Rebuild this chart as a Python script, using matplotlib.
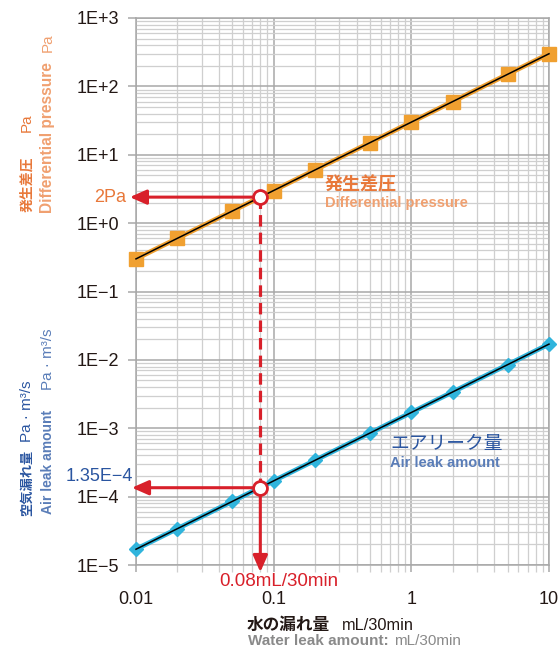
import math
import matplotlib
matplotlib.use('Agg')
import matplotlib.pyplot as plt
from matplotlib.ticker import LogLocator, FuncFormatter, NullFormatter

# data
water_leak = [0.01, 0.02, 0.05, 0.1, 0.2, 0.5, 1, 2, 5, 10]
diff_pressure = [0.3, 0.6, 1.5, 3, 6, 15, 30, 60, 150, 300]
air_leak = [1.7e-5, 3.4e-5, 8.5e-5, 1.7e-4, 3.4e-4, 8.5e-4, 1.7e-3, 3.4e-3, 8.5e-3, 1.7e-2]

# read-out example
read_water = 0.08
read_pressure = 2.4
read_air = 1.35e-4

ORANGE = "#F0A030"
ORANGE_TXT = "#E8783A"
ORANGE_LT = "#F0A070"
CYAN = "#30B4DC"
BLUE = "#2A55A0"
BLUE_LT = "#5A7DB8"
RED = "#D8202A"
INK = "#231815"

plt.rcParams['font.family'] = ['Liberation Sans', 'DejaVu Sans']
CJK = ['Noto Sans CJK JP', 'DejaVu Sans']

W, H = 560, 648
fig = plt.figure(figsize=(W / 100, H / 100), dpi=100)
ax = fig.add_axes([136 / W, 1 - 565 / H, (549 - 136) / W, (565 - 18) / H])

ax.set_xscale('log')
ax.set_yscale('log')
ax.set_xlim(0.01, 10)
ax.set_ylim(1e-5, 1e3)

ax.xaxis.set_major_locator(LogLocator(base=10, numticks=10))
ax.yaxis.set_major_locator(LogLocator(base=10, numticks=20))
ax.xaxis.set_minor_locator(LogLocator(base=10, subs=range(2, 10), numticks=50))
ax.yaxis.set_minor_locator(LogLocator(base=10, subs=range(2, 10), numticks=100))
ax.xaxis.set_minor_formatter(NullFormatter())
ax.yaxis.set_minor_formatter(NullFormatter())


def ylab(v, pos):
    e = int(round(math.log10(v)))
    return "1E" + ("+" if e >= 0 else "\u2212") + str(abs(e))


def xlab(v, pos):
    return {0.01: "0.01", 0.1: "0.1", 1: "1", 10: "10"}.get(round(v, 4), "")


ax.yaxis.set_major_formatter(FuncFormatter(ylab))
ax.xaxis.set_major_formatter(FuncFormatter(xlab))

ax.grid(True, which='major', color='#A8A8A8', lw=1.1)
ax.grid(True, which='minor', color='#CFCFCF', lw=0.9)
ax.set_axisbelow(True)
for s in ax.spines.values():
    s.set_color('#A8A8A8')
    s.set_linewidth(1.1)

ax.tick_params(axis='y', which='major', length=6, width=1.1, color='#A8A8A8',
               pad=6, labelsize=13, labelcolor=INK)
ax.tick_params(axis='y', which='minor', length=0)
ax.tick_params(axis='x', which='major', length=5, width=1.1, color='#A8A8A8',
               pad=13.5, labelsize=13, labelcolor=INK)
ax.tick_params(axis='x', which='minor', length=5, width=0.9, color='#CFCFCF')

# differential pressure series
ax.plot(water_leak, diff_pressure, color=ORANGE, lw=3.5, zorder=3)
ax.plot(water_leak, diff_pressure, 's', ms=9.5, color=ORANGE, clip_on=False, zorder=4)
ax.plot(water_leak, diff_pressure, color='black', lw=1.1, zorder=5, clip_on=False)

# air leak series
ax.plot(water_leak, air_leak, color=CYAN, lw=3.5, zorder=3)
ax.plot(water_leak, air_leak, 'D', ms=7.5, color=CYAN, clip_on=False, zorder=4)
ax.plot(water_leak, air_leak, color='black', lw=1.1, zorder=5, clip_on=False)

# read-out arrows
arrow = dict(arrowstyle='-|>,head_length=0.5,head_width=0.22', color=RED, lw=2.2,
             shrinkA=0, shrinkB=0, mutation_scale=20)
ax.annotate("", xy=(-0.015, read_pressure), xycoords=('axes fraction', 'data'),
            xytext=(read_water, read_pressure), textcoords='data',
            arrowprops=arrow, zorder=6, annotation_clip=False)
ax.annotate("", xy=(-0.01, read_air), xycoords=('axes fraction', 'data'),
            xytext=(read_water, read_air), textcoords='data',
            arrowprops=arrow, zorder=6, annotation_clip=False)
ax.annotate("", xy=(read_water, -0.013), xycoords=('data', 'axes fraction'),
            xytext=(read_water, read_air), textcoords='data',
            arrowprops=arrow, zorder=6, annotation_clip=False)
ax.plot([read_water, read_water], [read_pressure, read_air], color=RED, lw=2.3,
        dashes=(3.6, 1.9), zorder=6)
ax.plot([read_water] * 2, [read_pressure, read_air], 'o', ms=10, mfc='white',
        mec=RED, mew=2, zorder=7, clip_on=False)

ax.text(-0.025, read_pressure, "2Pa", transform=ax.get_yaxis_transform(),
        ha='right', va='center', fontsize=13, color=ORANGE_TXT)
ax.annotate("1.35E\u22124", xy=(0, read_air), xycoords=('axes fraction', 'data'),
            xytext=(-2, 8), textcoords='offset points', ha='right', va='center',
            fontsize=13, color=BLUE)
ax.annotate("0.08mL/30min", xy=(read_water, 0), xycoords=('data', 'axes fraction'),
            xytext=(13, -12), textcoords='offset points', ha='center', va='center',
            fontsize=13.5, color=RED, annotation_clip=False)

# series labels
ax.text(0.236, 3.6, "発生差圧", family=CJK, fontsize=13, fontweight='bold',
        color=ORANGE_TXT, ha='left', va='center', zorder=8)
ax.text(0.236, 1.95, "Differential pressure", fontsize=10.5, fontweight='bold',
        color=ORANGE_LT, ha='left', va='center', zorder=8)
ax.text(0.70, 6.0e-4, "エアリーク量", family=CJK, fontsize=13.5,
        color=BLUE, ha='left', va='center', zorder=8)
ax.text(0.70, 3.1e-4, "Air leak amount", fontsize=10.5, fontweight='bold',
        color=BLUE_LT, ha='left', va='center', zorder=8)


def ft(x, y, s, **kw):
    fig.text(x / W, 1 - y / H, s, **kw)


# left axis titles (rotated)
ft(27, 212, "発生差圧", rotation=90, ha='center', va='bottom', family=CJK,
   fontsize=10, fontweight='bold', color=ORANGE_TXT)
ft(27, 132, "Pa", rotation=90, ha='center', va='bottom', fontsize=11, color=ORANGE_TXT)
ft(48, 213, "Differential pressure", rotation=90, ha='center', va='bottom',
   fontsize=11.2, fontweight='bold', color=ORANGE_LT)
ft(48, 52, "Pa", rotation=90, ha='center', va='bottom', fontsize=11, color=ORANGE_LT)

ft(27, 516, "空気漏れ量", rotation=90, ha='center', va='bottom', family=CJK,
   fontsize=9.5, fontweight='bold', color=BLUE)
ft(27, 442, "Pa \u00b7 m\u00b3/s", rotation=90, ha='center', va='bottom', fontsize=11,
   color=BLUE)
ft(48, 514, "Air leak amount", rotation=90, ha='center', va='bottom',
   fontsize=10, fontweight='bold', color=BLUE_LT)
ft(48, 390, "Pa \u00b7 m\u00b3/s", rotation=90, ha='center', va='bottom', fontsize=11,
   color=BLUE_LT)

# bottom axis titles
ft(247, 625, "水の漏れ量", ha='left', va='center', family=CJK, fontsize=12,
   fontweight='bold', color=INK)
ft(342, 625, "mL/30min", ha='left', va='center', fontsize=11.8, color=INK)
ft(248, 641, "Water leak amount:", ha='left', va='center', fontsize=11,
   fontweight='bold', color='#8A8A8A')
ft(394, 641, "mL/30min", ha='left', va='center', fontsize=11, color='#8A8A8A')

fig.savefig("out.png", dpi=100)
